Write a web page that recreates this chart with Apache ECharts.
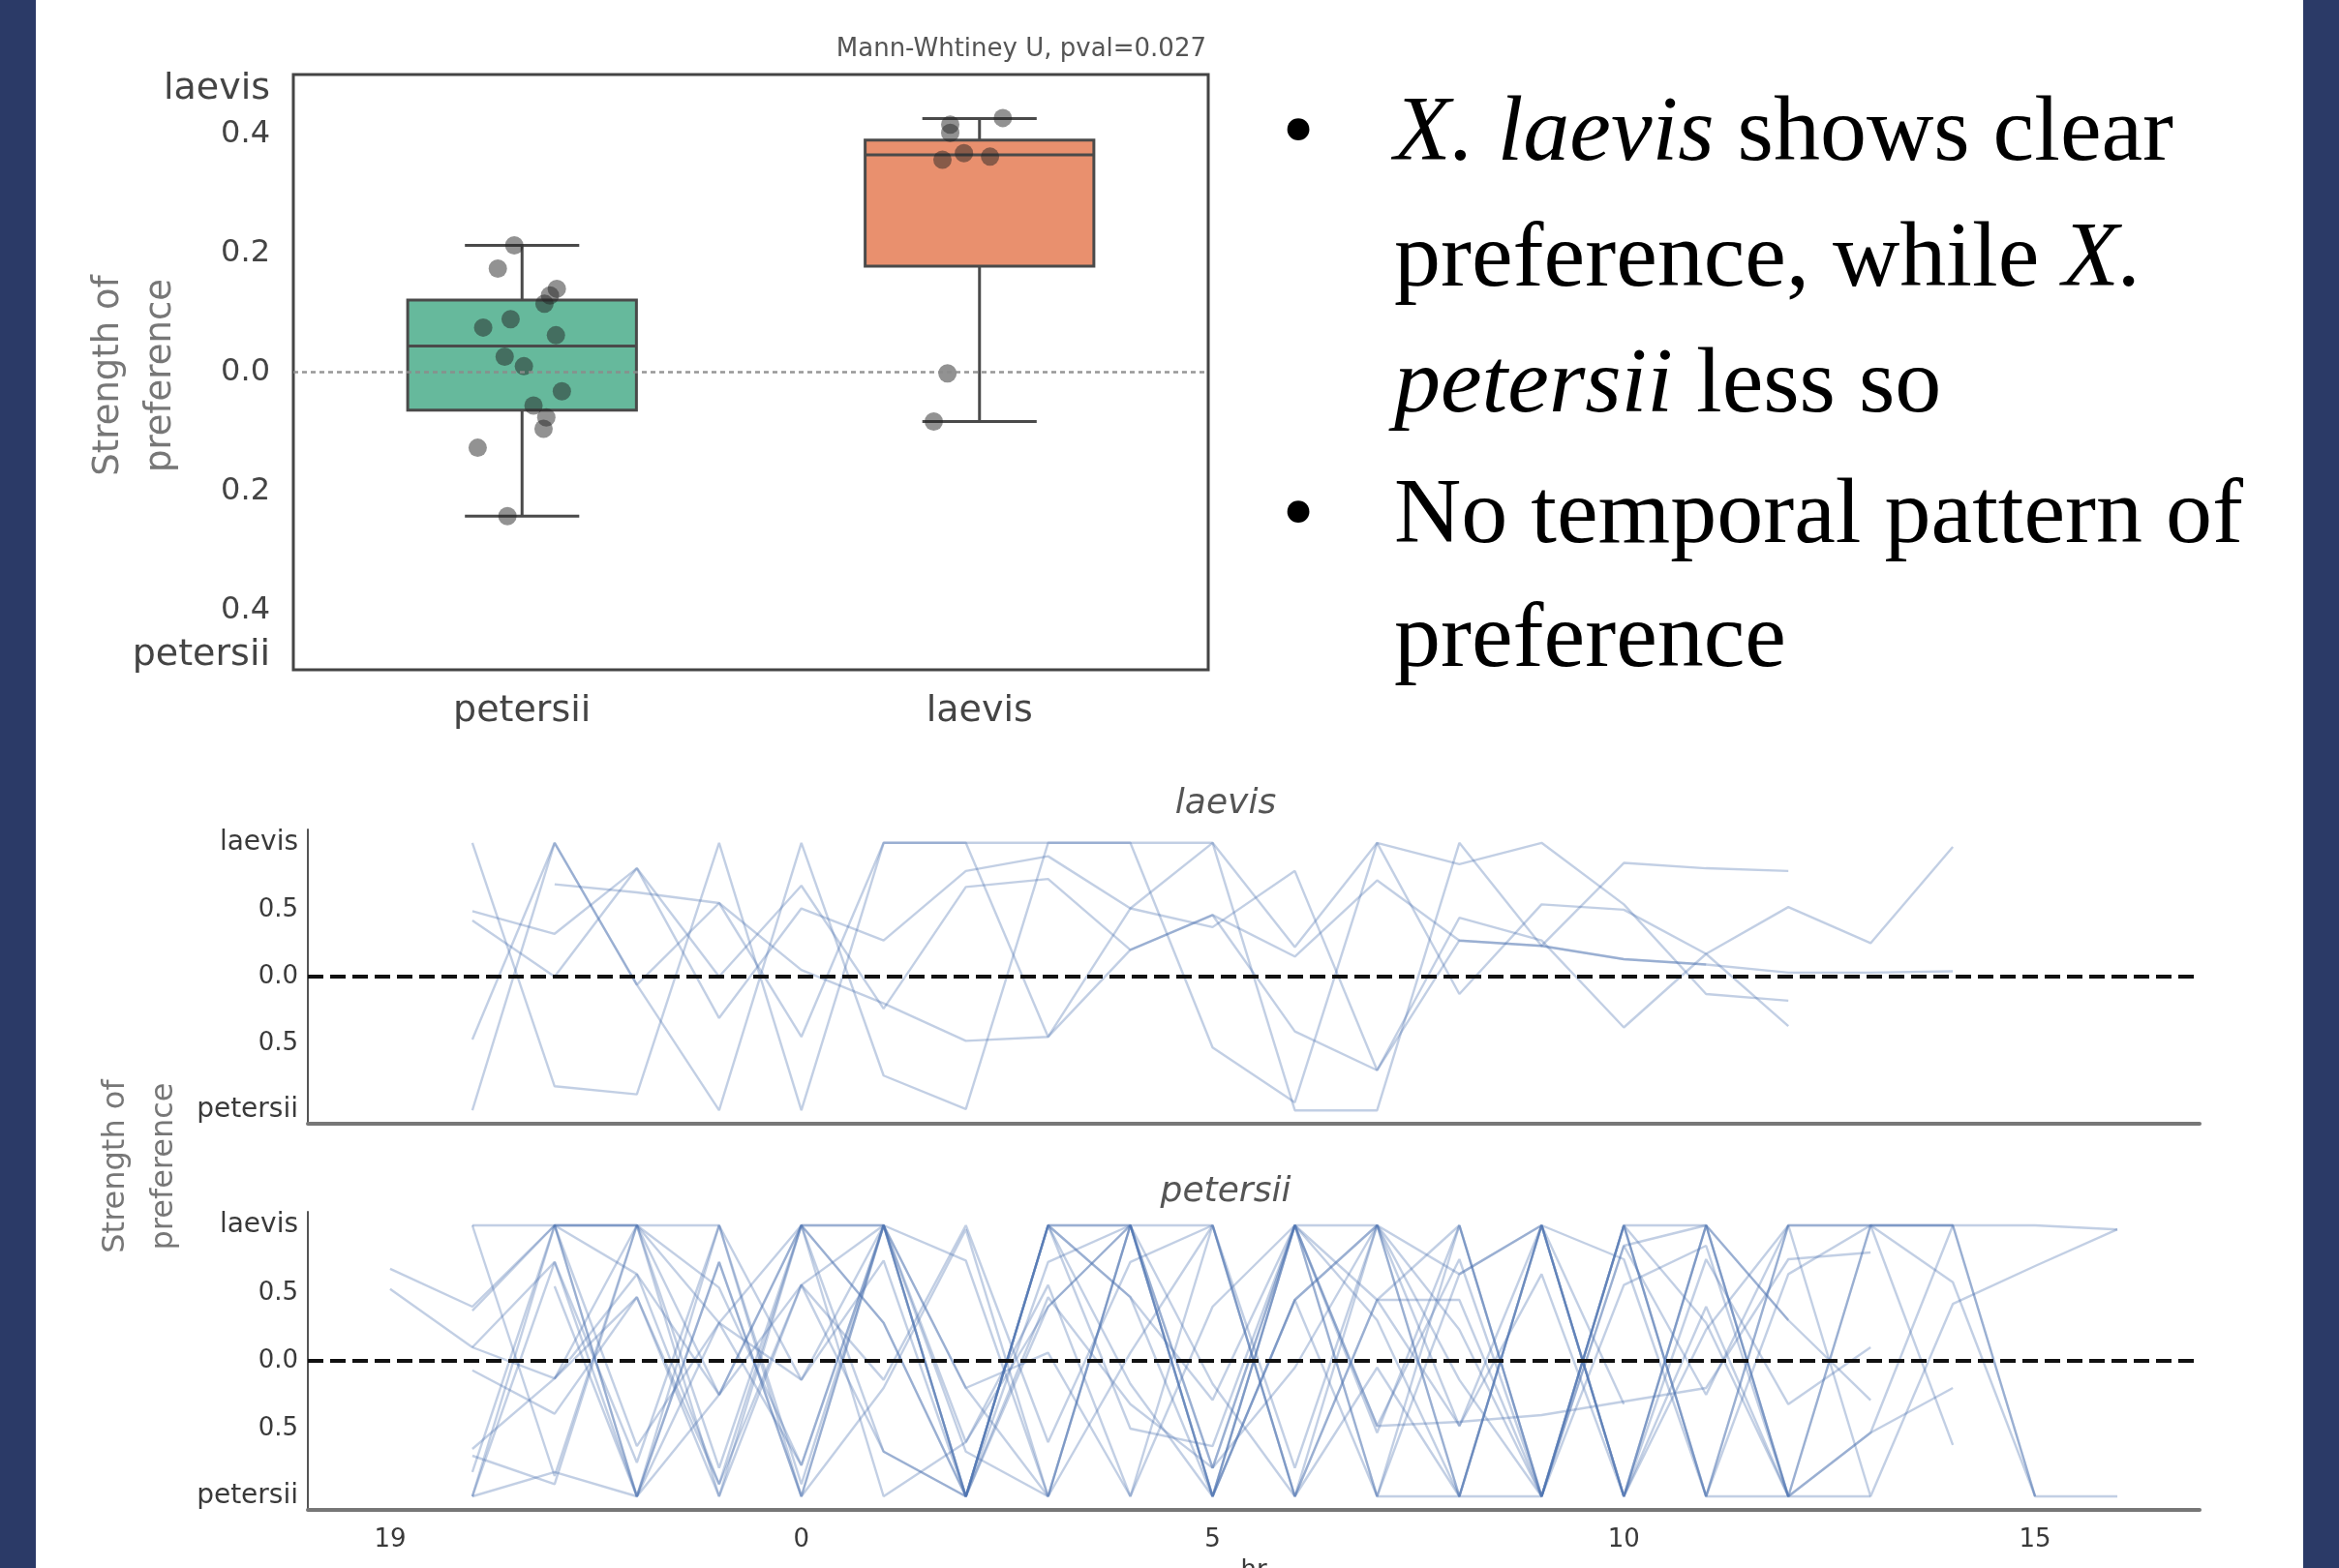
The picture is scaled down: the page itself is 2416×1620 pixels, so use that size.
<!DOCTYPE html>
<html>
<head>
<meta charset="utf-8">
<script src="https://cdn.jsdelivr.net/npm/echarts@6/dist/echarts.min.js"></script>
<style>
  html, body { margin: 0; padding: 0; background: #ffffff; }
  #wrap { position: relative; width: 2416px; height: 1620px; overflow: hidden; background: #ffffff; }
  #chart { position: absolute; left: 0; top: 0; width: 2416px; height: 1620px; }
  .bar { position: absolute; top: 0; height: 1620px; background: #2b3a67; }
</style>
</head>
<body>
<div id="wrap">
  <div id="chart"></div>
  <div class="bar" style="left:0;width:37px;"></div>
  <div class="bar" style="left:2379px;width:37px;"></div>
</div>
<script>
// ---------------- data ----------------
const boxCategories = ['petersii', 'laevis'];
// [lower whisker, Q1, median, Q3, upper whisker]
const petersiiBox = [-0.242, -0.064, 0.044, 0.121, 0.213];
const laevisBox = [-0.083, 0.178, 0.365, 0.390, 0.426];
const petersiiDots = [0.213, 0.174, 0.140, 0.129, 0.115, 0.075, 0.089, 0.062, 0.026, 0.010, -0.032, -0.056, -0.076, -0.095, -0.127, -0.242];
const petersiiJitter = [-0.017, -0.053, 0.076, 0.061, 0.049, -0.085, -0.025, 0.074, -0.038, 0.004, 0.087, 0.025, 0.053, 0.047, -0.097, -0.032];
const laevisDots = [0.427, 0.416, 0.402, 0.368, 0.357, 0.362, -0.002, -0.083];
const laevisJitter = [0.051, -0.064, -0.064, -0.034, -0.081, 0.023, -0.070, -0.100];
const boxTickValues = [-0.476, -0.4, -0.2, 0, 0.2, 0.4, 0.476];
const boxTickLabels = ['petersii', '0.4', '0.2', '0.0', '0.2', '0.4', 'laevis'];
const boxTitle = 'Mann-Whtiney U, pval=0.027';

const panelTickValues = [-1, -0.5, 0, 0.5, 1];
const panelTickLabels = ['petersii', '0.5', '0.0', '0.5', 'laevis'];
const hourTickValues = [-5, 0, 5, 10, 15];
const hourTickLabels = ['19', '0', '5', '10', '15'];

// laevis panel: start hour of each track, and hourly values
const laevisStart = [-4, -4, -4, -4, -4, -3];
const laevisValues = [
  [1.0, -0.82, -0.88, 1.0, -1.0, 1.0, 1.0, 1.0, 1.0, 1.0, -1.0, -1.0, 1.0, 0.23, 0.13, 0.09],
  [-1.0, 1.0, -0.06, -1.0, 1.0, -0.74, -0.99, 1.0, 1.0, -0.53, -0.94, 1.0, 0.84, 1.0, 0.54, -0.13, -0.18],
  [0.49, 0.32, 0.81, -0.31, 0.51, 0.27, 0.79, 0.90, 0.51, 0.37, 0.79, -0.70, 0.44, 0.27, -0.38, 0.17, -0.37],
  [0.42, 0.0, 0.81, 0.0, 0.68, -0.24, 0.67, 0.73, 0.2, 0.46, 0.15, 0.72, 0.27, 0.23, 0.85, 0.81, 0.79],
  [-0.47, 1.0, -0.06, 0.55, -0.45, 1.0, 1.0, -0.45, 0.51, 1.0, 0.22, 1.0, -0.13, 0.54, 0.5, 0.17, 0.52, 0.25, 0.97],
  [0.69, 0.63, 0.55, 0.05, -0.2, -0.48, -0.45, 0.2, 0.46, -0.41, -0.70, 0.27, 0.23, 0.13, 0.09, 0.03, 0.03, 0.04]
];

// petersii panel
const petersiiStart = [-5, -5, -4, -4, -4, -4, -4, -4, -4, -4, -3, -3, -4, -4, -4, -3, -3];
const petersiiValues = [
  [0.68, 0.40, 1.0, 1.0, -0.79, 1.0, 0.28, -1.0, 1.0, 0.47, -0.29, 1.0, -1.0, 0.64, 1.0, -0.32],
  [0.53, 0.1, -0.13, 0.64, -0.91, 0.56, 1.0, -0.6, 0.4, 1.0, -1.0, 0.45, 1.0, -0.14, -1.0, 0.85, -0.25, 1.0],
  [1.0, -0.85, 1.0, -0.25, 1.0, 1.0, -1.0, 0.73, 1.0, -0.79, 1.0, 0.3, -1.0, 1.0, -1.0, 1.0, -1.0, 1.0, 1.0, -1.0, -1.0],
  [-1.0, 1.0, 1.0, -1.0, 0.56, -0.67, -1.0, 1.0, 1.0, -1.0, 1.0, -1.0, -1.0, 1.0, -1.0, 0.23, 1.0, 1.0, 1.0, 1.0, 0.97],
  [-0.82, 1.0, -1.0, 0.73, -1.0, 1.0, -0.2, 0.06, -1.0, 0.4, 1.0, -0.48, 0.75, -1.0, 1.0, 0.28, -1.0, -0.53, 1.0],
  [-0.65, -0.13, 1.0, 0.28, -0.14, 0.74, -1.0, 1.0, -0.17, -1.0, 0.45, 1.0, 0.64, 1.0, -1.0, 0.75, -0.32, 0.1],
  [-1.0, 0.73, -0.75, 1.0, -1.0, -0.2, 0.97, -1.0, 1.0, -0.79, -0.05, 1.0, 0.23, -1.0, 0.85, 1.0, 0.3, -0.29],
  [-0.07, -0.39, 0.47, -0.91, 1.0, -1.0, -0.6, 0.56, -1.0, 1.0, -1.0, 0.45, -0.48, 0.64, -1.0, 0.4, -1.0, 1.0, 0.58, -1.0],
  [-0.7, -0.91, 1.0, 0.54, -0.77, 1.0, -1.0, 0.4, 1.0, -0.17, -1.0, 1.0, -1.0, 1.0, 0.75, -1.0, 1.0, -1.0, 0.42, 0.70, 0.97],
  [1.0, 1.0, -0.63, 0.28, 1.0, 0.28, -1.0, 1.0, 1.0, -1.0, 1.0, 1.0, -1.0, -1.0, 1.0, 1.0, -1.0, -1.0],
  [0.55, -1.0, 1.0, -0.14, 1.0, -1.0, 0.47, -0.32, -0.79, 1.0, -0.53, 1.0, -1.0, 1.0, -1.0, 0.64, 1.0, -0.62],
  [1.0, 0.64, -0.25, 1.0, -0.67, -1.0, 1.0, 0.47, -1.0, 0.45, -1.0, 1.0, -1.0, 1.0, -1.0, 1.0, 1.0, 1.0, -1.0],
  [0.1, 0.73, -1.0, 0.28, -0.77, 1.0, -1.0, 1.0, -0.5, -0.63, 1.0, -0.48, -0.45, -0.4, -0.3, -0.2, 0.75, 0.8],
  [-1.0, -0.82, -1.0, -0.25, 0.56, -0.14, 1.0, -0.6, 0.73, 1.0, -1.0, 0.45, 1.0, -1.0, 1.0, -1.0, -1.0],
  [0.37, 1.0, 1.0, 1.0, -0.91, 1.0, 0.74, -1.0, 0.06, 1.0, -1.0, -0.05, -1.0, 1.0, -1.0, 1.0, 0.3],
  [-0.13, 0.47, -1.0, 1.0, 1.0, -0.2, -1.0, 1.0, -1.0, 1.0, 0.45, 0.45, -1.0, 0.56, 0.85, -1.0],
  [1.0, -1.0, 0.73, -1.0, 1.0, -0.67, -1.0, 1.0, 1.0, -0.79, 1.0, -0.48, 1.0, -1.0, 1.0, -1.0, -0.53, -0.2]
];

// ---------------- styles ----------------
const boxColors = ['#66b99c', '#e9906e'];
const edgeColor = '#4a4a4a';
const lineColor = 'rgba(76,114,176,0.34)';
const FONT = '"DejaVu Sans", sans-serif';
const SERIF = '"Liberation Serif", "Times New Roman", serif';

function labelFor(values, labels) {
  return function (v) {
    for (let i = 0; i < values.length; i++) {
      if (Math.abs(values[i] - v) < 1e-6) {
        const t = labels[i];
        return /^[a-z]/.test(t) ? '{n|' + t + '}' : '{d|' + t + '}';
      }
    }
    return '';
  };
}

function renderBox(params, api) {
  const i = api.value(0);
  const lo = api.coord([i, api.value(1)]);
  const q1 = api.coord([i, api.value(2)]);
  const md = api.coord([i, api.value(3)]);
  const q3 = api.coord([i, api.value(4)]);
  const hi = api.coord([i, api.value(5)]);
  const band = api.size([1, 0])[0];
  const bw = band * 0.5, cw = band * 0.25;
  const cx = md[0];
  const st = () => ({ stroke: edgeColor, lineWidth: 3 });
  return {
    type: 'group',
    children: [
      { type: 'line', shape: { x1: cx, y1: q3[1], x2: cx, y2: hi[1] }, style: st() },
      { type: 'line', shape: { x1: cx, y1: q1[1], x2: cx, y2: lo[1] }, style: st() },
      { type: 'line', shape: { x1: cx - cw / 2, y1: hi[1], x2: cx + cw / 2, y2: hi[1] }, style: st() },
      { type: 'line', shape: { x1: cx - cw / 2, y1: lo[1], x2: cx + cw / 2, y2: lo[1] }, style: st() },
      { type: 'rect', shape: { x: cx - bw / 2, y: q3[1], width: bw, height: q1[1] - q3[1] },
        style: { fill: boxColors[i], stroke: edgeColor, lineWidth: 3 } },
      { type: 'line', shape: { x1: cx - bw / 2, y1: md[1], x2: cx + bw / 2, y2: md[1] }, style: st() }
    ]
  };
}

const boxData = [[0].concat(petersiiBox), [1].concat(laevisBox)];
const dotData = petersiiDots.map((v, k) => [0 + petersiiJitter[k], v])
  .concat(laevisDots.map((v, k) => [1 + laevisJitter[k], v]));

function trackSeries(starts, values, xi, yi) {
  const out = values.map((vals, k) => ({
    type: 'line',
    xAxisIndex: xi, yAxisIndex: yi,
    data: vals.map((v, j) => [starts[k] + j, v]),
    showSymbol: false, symbol: 'none', silent: true,
    lineStyle: { color: lineColor, width: 2.4 },
    z: 2
  }));
  out.push({
    type: 'line', xAxisIndex: xi, yAxisIndex: yi, data: [[0, 0]],
    showSymbol: false, symbol: 'none', silent: true,
    lineStyle: { opacity: 0 }, z: 5,
    markLine: {
      silent: true, symbol: 'none', label: { show: false },
      lineStyle: { color: '#111111', width: 4, type: [16, 7] },
      data: [{ yAxis: 0 }]
    }
  });
  return out;
}

const panelYAxis = (gi) => ({
  type: 'value', gridIndex: gi, min: -1.1, max: 1.1,
  axisLine: { show: true, onZero: false, lineStyle: { color: '#555', width: 2 } },
  axisTick: { show: false },
  splitLine: { show: false },
  axisLabel: {
    customValues: panelTickValues,
    formatter: labelFor(panelTickValues, panelTickLabels),
    margin: 10, color: '#3a3a3a', fontFamily: FONT,
    rich: { n: { fontSize: 28, color: '#3a3a3a', fontFamily: FONT }, d: { fontSize: 26, color: '#3a3a3a', fontFamily: FONT } }
  }
});

const panelXAxis = (gi, showLabels) => ({
  type: 'value', gridIndex: gi, min: -6, max: 17,
  axisLine: { show: true, onZero: false, lineStyle: { color: '#777', width: 4 } },
  axisTick: { show: false },
  splitLine: { show: false },
  axisLabel: showLabels ? {
    customValues: hourTickValues,
    formatter: (v) => { const i = hourTickValues.indexOf(v); return i >= 0 ? hourTickLabels[i] : ''; },
    margin: 18, fontSize: 26, color: '#3a3a3a', fontFamily: FONT
  } : { show: false },
  name: showLabels ? 'hr' : '',
  nameLocation: 'middle', nameGap: 50,
  nameTextStyle: { fontSize: 26, color: '#3a3a3a', fontFamily: FONT }
});

const bulletRich = {
  i: { fontStyle: 'italic', fontFamily: SERIF, fontSize: 96, lineHeight: 96, color: '#000' },
  r: { fontFamily: SERIF, fontSize: 96, lineHeight: 96, color: '#000' }
};
function bulletLine(text, y) {
  return {
    type: 'text', x: 1440, y: y, silent: true,
    style: { text: text, rich: bulletRich, font: '96px ' + SERIF, fill: '#000',
      textAlign: 'left', textVerticalAlign: 'middle', align: 'left', verticalAlign: 'middle' }
  };
}
function bulletDot(y) {
  return {
    type: 'text', x: 1341, y: y, silent: true,
    style: { text: '•', font: '96px ' + SERIF, fill: '#000',
      textAlign: 'center', textVerticalAlign: 'middle', align: 'center', verticalAlign: 'middle' }
  };
}
function plainText(text, x, y, font, fill, align, rotation, lineHeight) {
  const el = {
    type: 'text', x: x, y: y, silent: true,
    style: { text: text, font: font, fill: fill, lineHeight: lineHeight,
      textAlign: align, textVerticalAlign: 'middle', align: align, verticalAlign: 'middle' }
  };
  if (rotation) el.rotation = rotation;
  return el;
}

const chart = echarts.init(document.getElementById('chart'), null, { renderer: 'canvas' });
chart.setOption({
  animation: false,
  backgroundColor: 'transparent',
  grid: [
    { left: 303, top: 77, width: 945, height: 615, show: true, borderColor: '#444', borderWidth: 3,
      backgroundColor: 'transparent', outerBoundsMode: 'none', containLabel: false },
    { left: 318, top: 857, width: 1954, height: 304, outerBoundsMode: 'none', containLabel: false },
    { left: 318, top: 1252, width: 1954, height: 308, outerBoundsMode: 'none', containLabel: false }
  ],
  xAxis: [
    { type: 'category', gridIndex: 0, data: boxCategories,
      axisLine: { show: false }, axisTick: { show: false }, splitLine: { show: false },
      axisLabel: { fontSize: 38, color: '#444', fontFamily: FONT, margin: 24 } },
    { type: 'value', gridIndex: 0, min: -0.5, max: 1.5, show: false },
    panelXAxis(1, false),
    panelXAxis(2, true)
  ],
  yAxis: [
    { type: 'value', gridIndex: 0, min: -0.5, max: 0.5,
      axisLine: { show: false }, axisTick: { show: false }, splitLine: { show: false },
      axisLabel: {
        customValues: boxTickValues,
        formatter: labelFor(boxTickValues, boxTickLabels),
        margin: 24, color: '#444', fontFamily: FONT,
        rich: { n: { fontSize: 38, color: '#444', fontFamily: FONT }, d: { fontSize: 32, color: '#444', fontFamily: FONT } }
      } },
    panelYAxis(1),
    panelYAxis(2)
  ],
  series: [
    { type: 'custom', xAxisIndex: 0, yAxisIndex: 0, renderItem: renderBox, data: boxData,
      encode: { x: 0, y: [1, 2, 3, 4, 5] }, silent: true, z: 2 },
    { type: 'scatter', xAxisIndex: 1, yAxisIndex: 0, data: dotData, symbolSize: 19, silent: true,
      itemStyle: { color: 'rgba(35,35,35,0.62)' }, z: 4,
      markLine: { silent: true, symbol: 'none', label: { show: false },
        lineStyle: { color: 'rgba(140,140,140,0.9)', width: 2.5, type: [5, 4] },
        data: [{ yAxis: 0 }] } }
  ].concat(trackSeries(laevisStart, laevisValues, 2, 1))
   .concat(trackSeries(petersiiStart, petersiiValues, 3, 2)),
  graphic: [
    plainText(boxTitle, 1246, 51, '26px ' + FONT, '#555', 'right'),
    plainText('Strength of\npreference', 139, 388, '37px ' + FONT, '#777', 'center', Math.PI / 2, 54),
    plainText('Strength of\npreference', 145, 1205, '32px ' + FONT, '#777', 'center', Math.PI / 2, 50),
    plainText('laevis', 1266, 831, 'italic 36px ' + FONT, '#555', 'center'),
    plainText('petersii', 1266, 1232, 'italic 36px ' + FONT, '#555', 'center'),
    bulletDot(140),
    bulletLine('{i|X. laevis}{r| shows clear}', 140),
    bulletLine('{r|preference, while }{i|X.}', 270),
    bulletLine('{i|petersii}{r| less so}', 400),
    bulletDot(535),
    bulletLine('{r|No temporal pattern of}', 535),
    bulletLine('{r|preference}', 663)
  ]
});
</script>
</body>
</html>
